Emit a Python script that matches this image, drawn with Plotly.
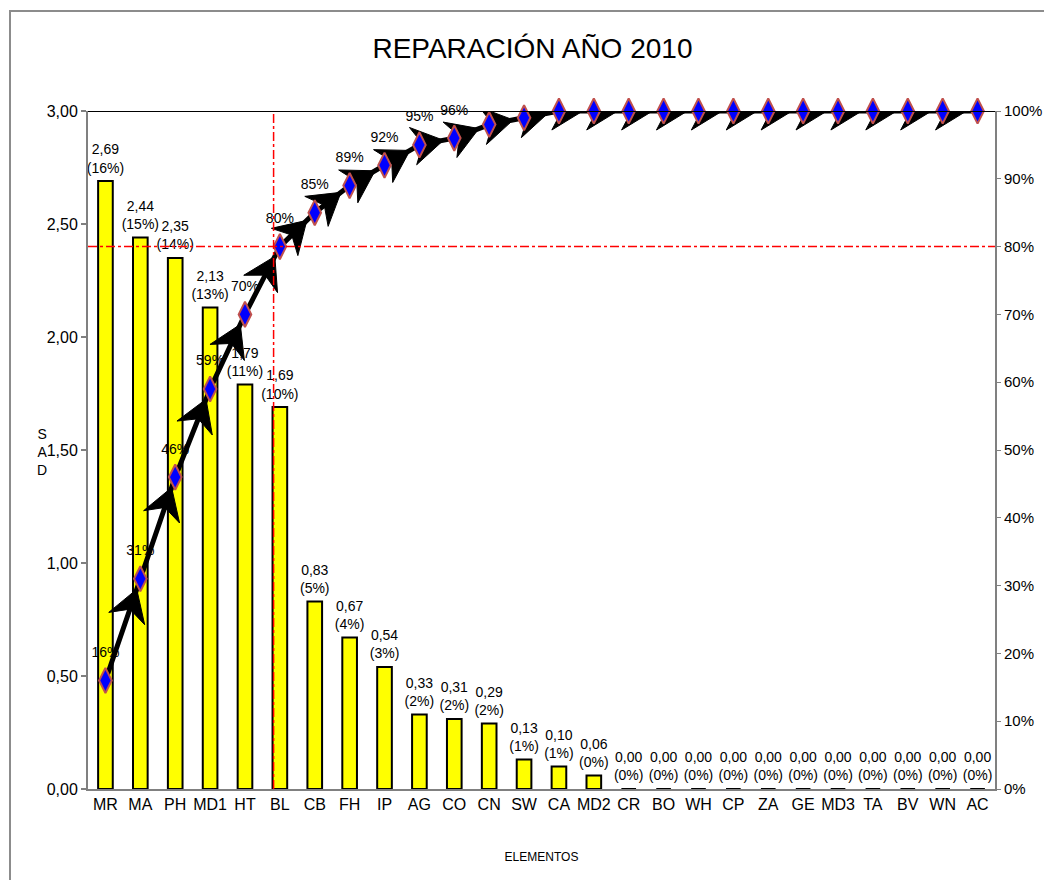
import numpy as np
import plotly.graph_objects as go

# ---- data -------------------------------------------------------------
categories = ["MR", "MA", "PH", "MD1", "HT", "BL", "CB", "FH", "IP", "AG", "CO",
              "CN", "SW", "CA", "MD2", "CR", "BO", "WH", "CP", "ZA", "GE", "MD3",
              "TA", "BV", "WN", "AC"]
sad_values = [2.69, 2.44, 2.35, 2.13, 1.79, 1.69, 0.83, 0.67, 0.54, 0.33, 0.31,
              0.29, 0.13, 0.10, 0.06, 0.00, 0.00, 0.00, 0.00, 0.00, 0.00, 0.00,
              0.00, 0.00, 0.00, 0.00]
share_pct = [16, 15, 14, 13, 11, 10, 5, 4, 3, 2, 2, 2, 1, 1, 0, 0, 0, 0, 0, 0,
             0, 0, 0, 0, 0, 0]
cumulative_pct = [16, 31, 46, 59, 70, 80, 85, 89, 92, 95, 96, 98, 99, 100, 100,
                  100, 100, 100, 100, 100, 100, 100, 100, 100, 100, 100]
left_ticks = [0.0, 0.5, 1.0, 1.5, 2.0, 2.5, 3.0]
right_ticks = [0.0, 0.1, 0.2, 0.3, 0.4, 0.5, 0.6, 0.7, 0.8, 0.9, 1.0]
cutoff_category = "BL"
cutoff_share = 0.80

# ---- geometry ---------------------------------------------------------
W, H = 1044, 880
M_L, M_R, M_T, M_B = 88, 49, 111, 91
PLOT_W = W - M_L - M_R
PLOT_H = H - M_T - M_B
X_MIN, X_MAX = -0.5, len(categories) - 0.5
Y_MAX = 3.0

FONT = "Liberation Sans, Arial, sans-serif"

x_idx = np.arange(len(categories))
cum_frac = np.array(cumulative_pct) / 100.0


def to_px(xv, frac):
    return (M_L + (xv - X_MIN) / (X_MAX - X_MIN) * PLOT_W,
            M_T + (1 - frac) * PLOT_H)


def from_px(px, py):
    return (X_MIN + (px - M_L) / PLOT_W * (X_MAX - X_MIN),
            1 - (py - M_T) / PLOT_H)


# stealth arrowheads at the end of each cumulative segment
HEAD_LEN, HEAD_HALF, STANDOFF, NOTCH = 31.0, 19.0, 11.0, 0.68
ax_pts, ay_pts = [], []
for i in range(1, len(categories)):
    p0 = np.array(to_px(x_idx[i - 1], cum_frac[i - 1]))
    p1 = np.array(to_px(x_idx[i], cum_frac[i]))
    f = (p1 - p0) / np.linalg.norm(p1 - p0)
    n = np.array([-f[1], f[0]])
    tip = p1 - STANDOFF * f
    back = tip - HEAD_LEN * f
    poly = [tip, back + HEAD_HALF * n, tip - NOTCH * HEAD_LEN * f,
            back - HEAD_HALF * n, tip]
    for pt in poly:
        xv, yv = from_px(*pt)
        ax_pts.append(xv)
        ay_pts.append(yv)
    ax_pts.append(None)
    ay_pts.append(None)

fig = go.Figure()

# bars
fig.add_trace(go.Bar(
    x=x_idx, y=sad_values, width=0.42,
    marker=dict(color="#FFFF00", line=dict(color="#000000", width=2)),
    hoverinfo="skip",
))

# bar labels: value and share
bar_text = [f"{v:.2f}".replace(".", ",") + f"<br>({p}%)" for v, p in zip(sad_values, share_pct)]
fig.add_trace(go.Scatter(
    x=x_idx, y=np.array(sad_values) + 5 / PLOT_H * Y_MAX, mode="text",
    text=bar_text, textposition="top center",
    textfont=dict(family=FONT, size=14, color="#000000"),
    cliponaxis=False, hoverinfo="skip",
))

# cumulative line
fig.add_trace(go.Scatter(
    x=x_idx, y=cum_frac, yaxis="y2", mode="lines",
    line=dict(color="#000000", width=5), hoverinfo="skip",
))
# arrowheads (clipped to the plot area)
fig.add_trace(go.Scatter(
    x=ax_pts, y=ay_pts, yaxis="y2", mode="lines", fill="toself",
    fillcolor="#000000", line=dict(color="#000000", width=1), hoverinfo="skip",
))
# diamonds
fig.add_trace(go.Scatter(
    x=x_idx, y=cum_frac, yaxis="y2", mode="markers",
    marker=dict(symbol="diamond-tall", size=18, color="#0000FF",
                line=dict(color="#C0504D", width=2)),
    cliponaxis=False, hoverinfo="skip",
))
# cumulative labels
fig.add_trace(go.Scatter(
    x=x_idx, y=cum_frac + 20 / PLOT_H, yaxis="y2", mode="text",
    text=[f"{p}%" for p in cumulative_pct], textposition="top center",
    textfont=dict(family=FONT, size=14, color="#000000"),
    cliponaxis=False, hoverinfo="skip",
))

cut_x = categories.index(cutoff_category) - 0.18

fig.update_layout(
    width=W, height=H,
    margin=dict(l=M_L, r=M_R, t=M_T, b=M_B, autoexpand=False),
    paper_bgcolor="#FFFFFF", plot_bgcolor="#FFFFFF",
    separators=",.",
    showlegend=False,
    font=dict(family=FONT, color="#000000"),
    title=dict(text="REPARACIÓN AÑO 2010", x=0.51, xanchor="center",
               y=1 - 48 / H, yanchor="middle",
               font=dict(family=FONT, size=28, color="#000000")),
    xaxis=dict(range=[X_MIN, X_MAX], tickvals=list(x_idx), ticktext=categories,
               showgrid=False, zeroline=False, showline=True,
               linecolor="#808080", linewidth=2, ticks="",
               tickfont=dict(family=FONT, size=16, color="#000000"),
               title=dict(text="ELEMENTOS", font=dict(family=FONT, size=12),
                          standoff=40)),
    yaxis=dict(range=[0, Y_MAX], tickvals=left_ticks, tickformat=".2f",
               showgrid=False, zeroline=False, showline=True,
               linecolor="#808080", linewidth=2, ticks="outside", ticklen=5,
               tickcolor="#808080", tickwidth=2,
               tickfont=dict(family=FONT, size=16, color="#000000")),
    yaxis2=dict(range=[0, 1], tickvals=right_ticks, tickformat=".0%",
                overlaying="y", side="right", showgrid=False, zeroline=False,
                showline=True, linecolor="#808080", linewidth=2,
                ticks="outside", ticklen=4, tickcolor="#808080", tickwidth=1,
                tickfont=dict(family=FONT, size=15, color="#000000")),
    shapes=[
        # outer chart frame
        dict(type="rect", xref="paper", yref="paper",
             x0=(10 - M_L) / PLOT_W, x1=1.2, y0=-0.3, y1=1 + (M_T - 11) / PLOT_H,
             line=dict(color="#8C8C8C", width=2), layer="below"),
        # top edge of plot area
        dict(type="line", xref="paper", yref="y", x0=0, x1=1, y0=Y_MAX, y1=Y_MAX,
             line=dict(color="#000000", width=2)),
        # Pareto cut-off guides
        dict(type="line", xref="paper", yref="y2", x0=0, x1=1,
             y0=cutoff_share, y1=cutoff_share,
             line=dict(color="#FF0000", width=1.5, dash="dashdot")),
        dict(type="line", xref="x", yref="paper", x0=cut_x, x1=cut_x, y0=0, y1=1,
             line=dict(color="#FF0000", width=1.5, dash="dashdot")),
    ],
    annotations=[
        dict(text="S<br>A<br>D", xref="paper", yref="paper",
             x=(42 - M_L) / PLOT_W, y=1 - (452 - M_T) / PLOT_H,
             showarrow=False, font=dict(family=FONT, size=14, color="#000000"),
             xanchor="center", yanchor="middle"),
    ],
)

fig.write_html("out.html")
